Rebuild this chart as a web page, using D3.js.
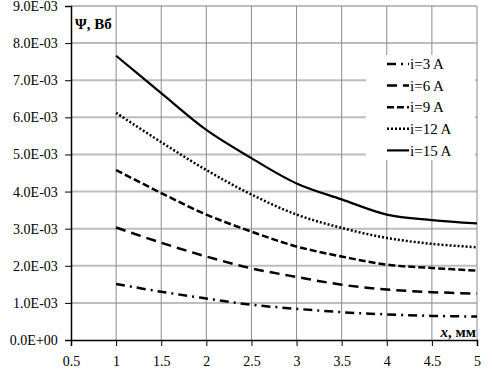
<!DOCTYPE html>
<html>
<head>
<meta charset="utf-8">
<script src="https://cdn.jsdelivr.net/npm/d3@7"></script>
<style>
  body { margin: 0; background: #fff; }
  svg text { font-family: "Liberation Serif", "Times New Roman", "DejaVu Serif", serif; }
</style>
</head>
<body>
<svg id="chart" width="492" height="375" font-family="Liberation Serif"></svg>
<script>
const xs = [1, 1.5, 2, 2.5, 3, 3.5, 4, 4.5, 5]
const i3  = [1.51, 1.30, 1.12, 0.95, 0.84, 0.75, 0.69, 0.65, 0.63]
const i6  = [3.03, 2.62, 2.25, 1.93, 1.70, 1.49, 1.36, 1.29, 1.25]
const i9  = [4.58, 3.96, 3.38, 2.92, 2.52, 2.25, 2.03, 1.94, 1.87]
const i12 = [6.12, 5.33, 4.58, 3.92, 3.38, 3.02, 2.75, 2.59, 2.50]
const i15 = [7.66, 6.65, 5.66, 4.90, 4.22, 3.79, 3.38, 3.23, 3.14]
const seriesNames = ["i=3 A", "i=6 A", "i=9 A", "i=12 A", "i=15 A"]
const xTicks = [0.5, 1, 1.5, 2, 2.5, 3, 3.5, 4, 4.5, 5]
const yTicks = [0, 1, 2, 3, 4, 5, 6, 7, 8, 9] // x 1e-3

const series = [i3, i6, i9, i12, i15]
const dashes = ["9,5,2,5", "10,6", "7,3", "2,2", null]

const svg = d3.select("#chart")
const mLeft = 71, mRight = 477, mTop = 6, mBottom = 340

const xScale = d3.scaleLinear().domain([0.5, 5]).range([mLeft, mRight])
const yScale = d3.scaleLinear().domain([0, 9]).range([mBottom, mTop])

// horizontal grid
svg.append("g").selectAll("line")
    .data(yTicks.slice(1))
    .join("line")
    .attr("x1", mLeft).attr("x2", mRight)
    .attr("y1", d => yScale(d)).attr("y2", d => yScale(d))
    .attr("stroke", "#bdbdbd").attr("stroke-width", 2)

// vertical grid
svg.append("g").selectAll("line")
    .data(xTicks.slice(1))
    .join("line")
    .attr("x1", d => xScale(d)).attr("x2", d => xScale(d))
    .attr("y1", mTop).attr("y2", mBottom)
    .attr("stroke", "#8c8c8c").attr("stroke-width", 1)

// axes
const x_axis = d3.axisBottom(xScale).tickValues(xTicks).tickSize(6).tickFormat(d => d)
const y_axis = d3.axisLeft(yScale).tickValues(yTicks).tickSize(6)
    .tickFormat(d => d === 0 ? "0.0E+00" : d.toFixed(1) + "E-03")

const gx = svg.append("g").attr("transform", `translate(0,${mBottom})`).call(x_axis)
const gy = svg.append("g").attr("transform", `translate(${mLeft},0)`).call(y_axis)
for (const g of [gx, gy]) {
    g.attr("font-family", "Liberation Serif")
    g.select(".domain").attr("stroke", "#000").attr("stroke-width", 1.5)
    g.selectAll(".tick line").attr("stroke", "#000")
    g.selectAll("text").attr("font-size", 14).attr("fill", "#000")
}
gx.selectAll("text").attr("dy", "1.2em")
gy.selectAll("text").attr("dx", "-0.3em")

// legend box (white)
svg.append("rect")
    .attr("x", 366).attr("y", 55).attr("width", 109).attr("height", 105)
    .attr("fill", "#fff")

// lines
const line = d3.line()
    .x((d, i) => xScale(xs[i]))
    .y(d => yScale(d))
    .curve(d3.curveCatmullRom.alpha(0.5))

svg.append("g").selectAll("path")
    .data(series)
    .join("path")
    .attr("d", d => line(d))
    .attr("fill", "none")
    .attr("stroke", "#000")
    .attr("stroke-width", (d, i) => i === 4 ? 2.2 : 2.5)
    .attr("stroke-dasharray", (d, i) => dashes[i])

// legend
const legendItems = svg.append("g")
    .selectAll("g")
    .data(seriesNames)
    .join("g")
    .attr("transform", (d, i) => `translate(387,${64 + i * 21.6})`)

legendItems.append("line")
    .attr("x1", 0).attr("x2", 22).attr("y1", 0).attr("y2", 0)
    .attr("stroke", "#000")
    .attr("stroke-width", (d, i) => i === 4 ? 2.2 : 2.5)
    .attr("stroke-dasharray", (d, i) => dashes[i])

legendItems.append("text")
    .attr("x", 23).attr("dy", "0.35em")
    .attr("font-size", 15)
    .text(d => d)

// axis titles
svg.append("text")
    .attr("x", 75).attr("y", 29)
    .attr("font-size", 15).attr("font-weight", "bold")
    .text("Ψ, Вб")

const xt = svg.append("text")
    .attr("x", 476).attr("y", 337)
    .attr("text-anchor", "end")
    .attr("font-size", 15).attr("font-weight", "bold")
xt.append("tspan").attr("font-style", "italic").text("x")
xt.append("tspan").text(", мм")
</script>
</body>
</html>
